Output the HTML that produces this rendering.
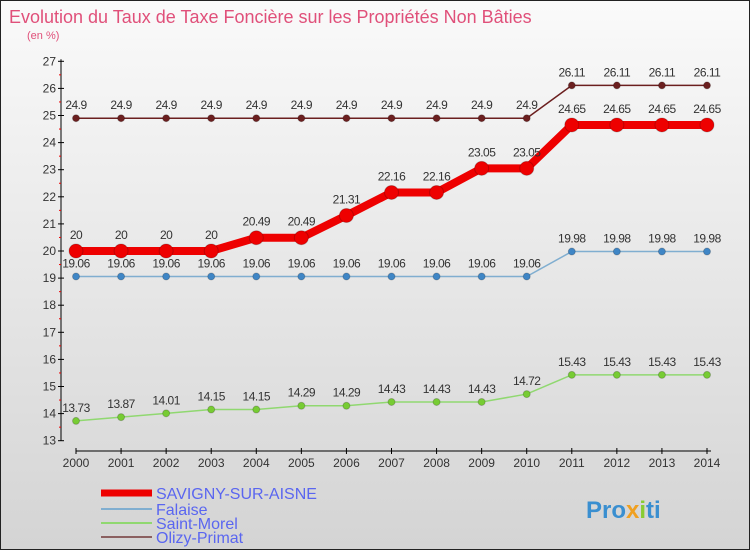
<!DOCTYPE html>
<html><head><meta charset="utf-8"><style>
body{margin:0}
#c{width:748px;height:548px;border:1px solid #222;background:linear-gradient(#fafafa,#d4d4d4);position:relative;overflow:hidden;font-family:"Liberation Sans",sans-serif}
</style></head><body>
<div id="c">
<svg id="s" width="748" height="548" xmlns="http://www.w3.org/2000/svg" font-family="Liberation Sans, sans-serif"></svg>
</div>
<script>
const years=[2000,2001,2002,2003,2004,2005,2006,2007,2008,2009,2010,2011,2012,2013,2014];
const savigny=[20,20,20,20,20.49,20.49,21.31,22.16,22.16,23.05,23.05,24.65,24.65,24.65,24.65];
const falaise=[19.06,19.06,19.06,19.06,19.06,19.06,19.06,19.06,19.06,19.06,19.06,19.98,19.98,19.98,19.98];
const stmorel=[13.73,13.87,14.01,14.15,14.15,14.29,14.29,14.43,14.43,14.43,14.72,15.43,15.43,15.43,15.43];
const olizy=[24.9,24.9,24.9,24.9,24.9,24.9,24.9,24.9,24.9,24.9,24.9,26.11,26.11,26.11,26.11];
const yTicks=[13,14,15,16,17,18,19,20,21,22,23,24,25,26,27];
const NS="http://www.w3.org/2000/svg",s=document.getElementById('s');
const X=i=>75+i*(631/14), Y=v=>250-(v-20)*27.1;
function el(t,a,p){const e=document.createElementNS(NS,t);for(const k in a)e.setAttribute(k,a[k]);(p||s).appendChild(e);return e;}
function tx(x,y,str,a,p){const e=el('text',Object.assign({x:x,y:y},a),p);e.textContent=str;return e;}
let t=tx(8,22,'Evolution du Taux de Taxe Foncière sur les Propriétés Non Bâties',{fill:'#e0507a','font-size':18});

t=tx(26,38,'(en %)',{fill:'#e0507a','font-size':11});

let ax=el('g',{});
el('line',{x1:60,y1:Y(27)-2,x2:60,y2:Y(13),stroke:'#000','stroke-width':1},ax);
yTicks.forEach(v=>{el('line',{x1:57,y1:Y(v),x2:63,y2:Y(v),stroke:'#000'},ax);
 if(v<27)el('line',{x1:58,y1:Y(v+0.5),x2:60,y2:Y(v+0.5),stroke:'#e00'},ax);
 tx(55,Y(v)+4,String(v),{'text-anchor':'end','font-size':12,fill:'#333'},ax);});
let xa=el('g',{});
el('line',{x1:75,y1:450,x2:710,y2:450,stroke:'#000'},xa);
years.forEach((y,i)=>{el('line',{x1:X(i),y1:447,x2:X(i),y2:453,stroke:'#000'},xa);
 tx(X(i),466,String(y),{'text-anchor':'middle','font-size':12,fill:'#333'},xa);});
function series(name,data,color,w,r,dot,lblOff){
 const g=el('g',{});
 el('polyline',{points:data.map((v,i)=>X(i)+','+Y(v)).join(' '),fill:'none',stroke:color,'stroke-width':w},g);
 data.forEach((v,i)=>{el('circle',{cx:X(i),cy:Y(v),r:r,fill:dot,stroke:'#0003'},g);
  tx(X(i),Y(v)+lblOff,String(v),{'text-anchor':'middle','font-size':12,fill:'#333','letter-spacing':'-0.5'},g);});
}
series('series-olizy-primat',olizy,'#6b1f1f',1.5,3.5,'#6b1f1f',-9);
series('series-saint-morel',stmorel,'#90d870',1.5,3.5,'#77cc33',-9);
series('series-falaise',falaise,'#80aed0',1.5,3.5,'#3f86c6',-9);
series('series-savigny-sur-aisne',savigny,'#ee0000',8,7,'#ee0000',-12);
const leg=[['SAVIGNY-SUR-AISNE','#ee0000',7],['Falaise','#80aed0',2],['Saint-Morel','#90d870',2],['Olizy-Primat','#8b6060',2]];
const ly=[493,509,523,537];
leg.forEach((l,i)=>{const g=el('g',{});
 el('line',{x1:100,y1:ly[i]-1,x2:151,y2:ly[i]-1,stroke:l[1],'stroke-width':l[2]},g);
 tx(155,ly[i]+5,l[0],{'font-size':16,fill:'#5a66f0'},g);});
const lg=el('text',{x:585,y:517,'font-size':24,'font-weight':'bold',fill:'#3a8fd0'});

lg.innerHTML='Pro<tspan fill="#f0a020">x</tspan><tspan fill="#88cc33">i</tspan>ti';
</script>
</body></html>
